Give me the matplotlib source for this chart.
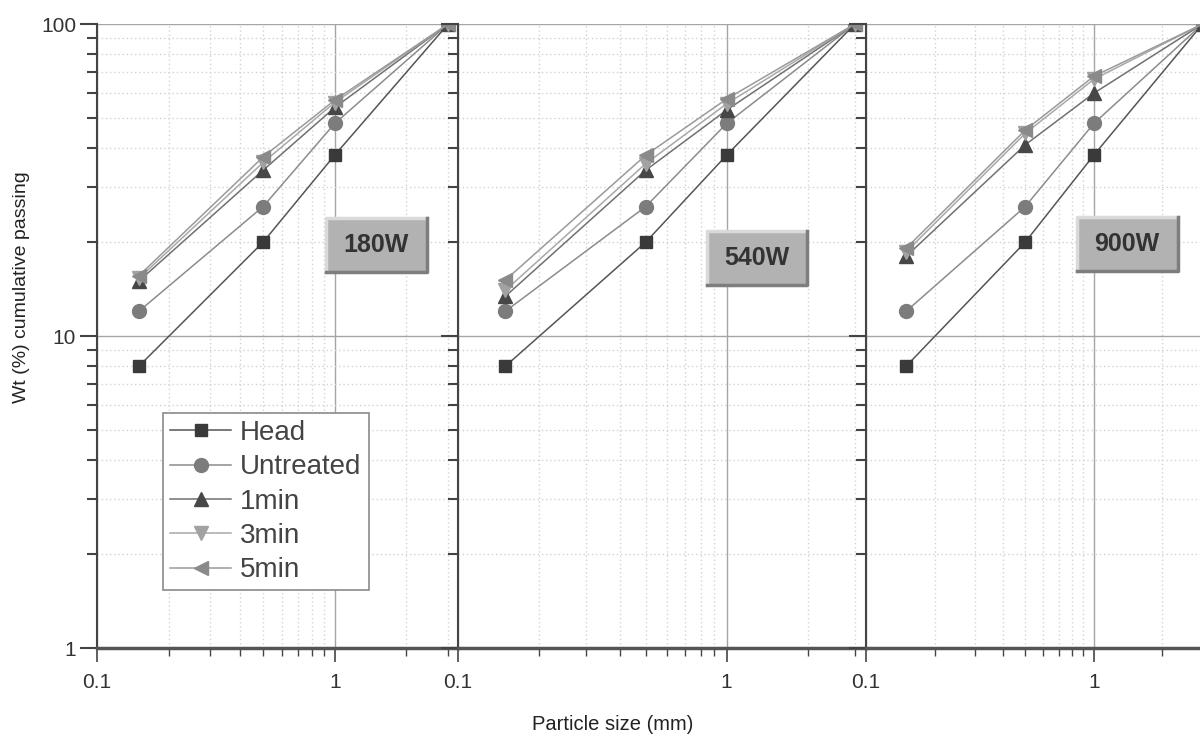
import matplotlib
matplotlib.use("Agg")
import matplotlib.pyplot as plt
from matplotlib.patches import Rectangle
from matplotlib.lines import Line2D
from matplotlib.ticker import FuncFormatter, NullFormatter

plt.rcParams['font.family'] = ['Liberation Sans', 'DejaVu Sans']

# particle sizes (mm) and cumulative passing (%)
sizes = [0.15, 0.5, 1, 3]
powers = ["180W", "540W", "900W"]
series_names = ["Head", "Untreated", "1min", "3min", "5min"]

head = [8, 20, 38, 100]
untreated = [12, 26, 48, 100]

min1_180 = [15, 34, 54, 100]
min3_180 = [15.3, 36, 56, 100]
min5_180 = [15.6, 37.5, 57, 100]

min1_540 = [13.4, 34, 53, 100]
min3_540 = [14, 35.7, 55.5, 100]
min5_540 = [15.1, 38, 57.5, 100]

min1_900 = [18, 41, 60, 100]
min3_900 = [18.6, 44.6, 66.5, 100]
min5_900 = [19.1, 45.7, 68, 100]

panels = {
    "180W": [head, untreated, min1_180, min3_180, min5_180],
    "540W": [head, untreated, min1_540, min3_540, min5_540],
    "900W": [head, untreated, min1_900, min3_900, min5_900],
}

# marker, marker colour, line colour, marker size
styles = [
    ("s", "#3a3a3a", "#555555", 9),
    ("o", "#7c7c7c", "#8c8c8c", 10),
    ("^", "#474747", "#707070", 10.5),
    ("v", "#a2a2a2", "#a8a8a8", 10.5),
    ("<", "#8a8a8a", "#9a9a9a", 10.5),
]

W, H = 1200, 736
fig = plt.figure(figsize=(W / 100, H / 100), dpi=100)


def px_rect(left, right, top, bottom):
    return [left / W, 1 - bottom / H, (right - left) / W, (bottom - top) / H]


panel_px = [(97, 458), (458, 866), (866, 1212)]
tag_px = [(376.5, 245), (757, 258), (1127, 244)]
axes = []

for i, p in enumerate(powers):
    l, r = panel_px[i]
    ax = fig.add_axes(px_rect(l, r, 24, 648))
    ax.set_xscale("log")
    ax.set_yscale("log")
    ax.set_xlim(0.1, 3.3)
    ax.set_ylim(1, 100)
    ax.set_axisbelow(True)
    ax.grid(which="major", color="#a5a5a5", lw=1.0, ls="-")
    ax.grid(which="minor", color="#d2d2d2", lw=1.0, ls=(0, (1, 2)))
    for sp in ("top", "right"):
        ax.spines[sp].set_visible(False)
    ax.spines["left"].set_color("#444444")
    ax.spines["left"].set_linewidth(1.5)
    ax.spines["bottom"].set_color("#555555")
    ax.spines["bottom"].set_linewidth(2.5)
    ax.tick_params(axis="x", which="major", length=10, width=1.2, color="#444444",
                   labelsize=15, labelcolor="#333333", pad=8)
    ax.tick_params(axis="x", which="minor", length=6, width=1, color="#444444")
    ax.tick_params(axis="y", which="major", length=12, width=1.5, color="#444444",
                   labelsize=15, labelcolor="#333333", pad=3)
    ax.tick_params(axis="y", which="minor", length=7, width=1.5, color="#444444")
    ax.xaxis.set_major_formatter(FuncFormatter(lambda v, pos: "%g" % v))
    ax.xaxis.set_minor_formatter(NullFormatter())
    ax.yaxis.set_major_formatter(FuncFormatter(lambda v, pos: "%g" % v))
    ax.yaxis.set_minor_formatter(NullFormatter())
    if i > 0:
        ax.tick_params(axis="y", which="both", labelleft=False)

    for vals, (mk, mc, lc, ms) in zip(panels[p], styles):
        ax.plot(sizes, vals, color=lc, lw=1.1, marker=mk, markersize=ms,
                markerfacecolor=mc, markeredgecolor=mc, zorder=3)
    axes.append(ax)

    # bevelled power tag
    cx, cy = tag_px[i]
    bw, bh = 101, 54
    x0, y0 = (cx - bw / 2) / W, 1 - (cy + bh / 2) / H
    fw, fh = bw / W, bh / H
    fig.patches.append(Rectangle((x0, y0), fw, fh, transform=fig.transFigure,
                                 facecolor="#b2b2b2", edgecolor="none", zorder=5))
    fig.lines.append(Line2D([x0, x0, x0 + fw], [y0, y0 + fh, y0 + fh],
                            transform=fig.transFigure, color="#dadada", lw=2.5, zorder=6))
    fig.lines.append(Line2D([x0, x0 + fw, x0 + fw], [y0, y0, y0 + fh],
                            transform=fig.transFigure, color="#7e7e7e", lw=2.5, zorder=6))
    fig.text(cx / W, 1 - cy / H, p, ha="center", va="center", fontsize=18,
             fontweight="bold", color="#333333", zorder=7)

# legend
handles = []
for name, (mk, mc, lc, ms) in zip(series_names, styles):
    handles.append(Line2D([], [], color=lc, lw=1.1, marker=mk, markersize=ms,
                          markerfacecolor=mc, markeredgecolor=mc, label=name))
leg = fig.legend(handles=handles, loc="upper left",
                 bbox_to_anchor=(163 / W, 1 - 413 / H), bbox_transform=fig.transFigure,
                 borderaxespad=0, fontsize=20, frameon=True, fancybox=False,
                 edgecolor="#8a8a8a", framealpha=1, labelspacing=0.3,
                 handlelength=2.2, handletextpad=0.33, borderpad=0.25)
leg.get_frame().set_linewidth(1.2)
for t in leg.get_texts():
    t.set_color("#444444")

fig.text(22 / W, 1 - 287 / H, "Wt (%) cumulative passing", rotation=90,
         ha="center", va="center", fontsize=14, color="#222222")
fig.text(613 / W, 1 - 725 / H, "Particle size (mm)", ha="center", va="center",
         fontsize=14.5, color="#222222")

fig.savefig("out.png", dpi=100)
